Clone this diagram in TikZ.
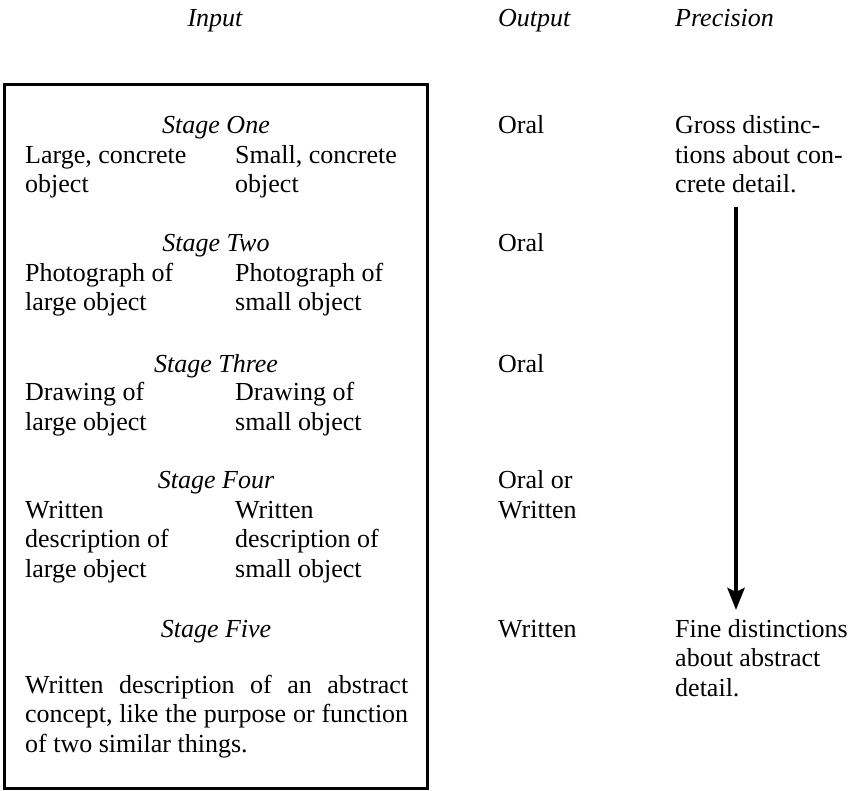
\documentclass[tikz,border=0pt]{standalone}
\usepackage{fontspec}
\setmainfont{Liberation Serif}
\usetikzlibrary{arrows.meta}

\begin{document}
\begin{tikzpicture}[x=1pt,y=-1pt,
  txt/.style={inner sep=0pt,anchor=base west,align=left,font=\fontsize{26}{29.5}\selectfont},
  head/.style={txt,font=\fontsize{26}{29.5}\selectfont\itshape},
  stage/.style={head,anchor=base}]
  \useasboundingbox (0,0) rectangle (856,791);
  % column heads
  \node[stage] (input) at (215,27) {Input};
  \node[head] (output) at (498,27) {Output};
  \node[head] (precision) at (675,27) {Precision};
  % input box (multi-line nodes sit on their last line)
  \draw[line width=3pt] (4,85) rectangle (427,788);
  \node[stage] (st1) at (216,134) {Stage One};
  \node[txt] (big1) at (25,193) {Large, concrete\\object};
  \node[txt] (small1) at (235,193) {Small, concrete\\object};
  \node[stage] (st2) at (216,252) {Stage Two};
  \node[txt] (big2) at (25,311) {Photograph of\\large object};
  \node[txt] (small2) at (235,311) {Photograph of\\small object};
  \node[stage] (st3) at (216,372) {Stage Three};
  \node[txt] (big3) at (25,430) {Drawing of\\large object};
  \node[txt] (small3) at (235,430) {Drawing of\\small object};
  \node[stage] (st4) at (216,488) {Stage Four};
  \node[txt] (big4) at (25,577) {Written\\description of\\large object};
  \node[txt] (small4) at (235,577) {Written\\description of\\small object};
  \node[stage] (st5) at (216,637) {Stage Five};
  \node[txt,align=justify,text width=383pt] (para) at (25,693)
    {Written description of an abstract concept, like the purpose or function of two similar things.};
  % output
  \node[txt] (out1) at (498,134) {Oral};
  \node[txt] (out2) at (498,252) {Oral};
  \node[txt] (out3) at (498,372) {Oral};
  \node[txt] (out4) at (498,518) {Oral or\\Written};
  \node[txt] (out5) at (498,637) {Written};
  % precision
  \node[txt] (gross) at (675,193) {Gross distinc-\\tions about con-\\crete detail.};
  \node[txt] (fine) at (675,696) {Fine distinctions\\about abstract\\detail.};
  \coordinate (top) at (736,207);
  \coordinate (tip) at (736,610);
  \draw[line width=4.5pt,-{Stealth[length=22pt,width=17pt,inset=4pt]}] (top) -- (tip);
\end{tikzpicture}
\end{document}
